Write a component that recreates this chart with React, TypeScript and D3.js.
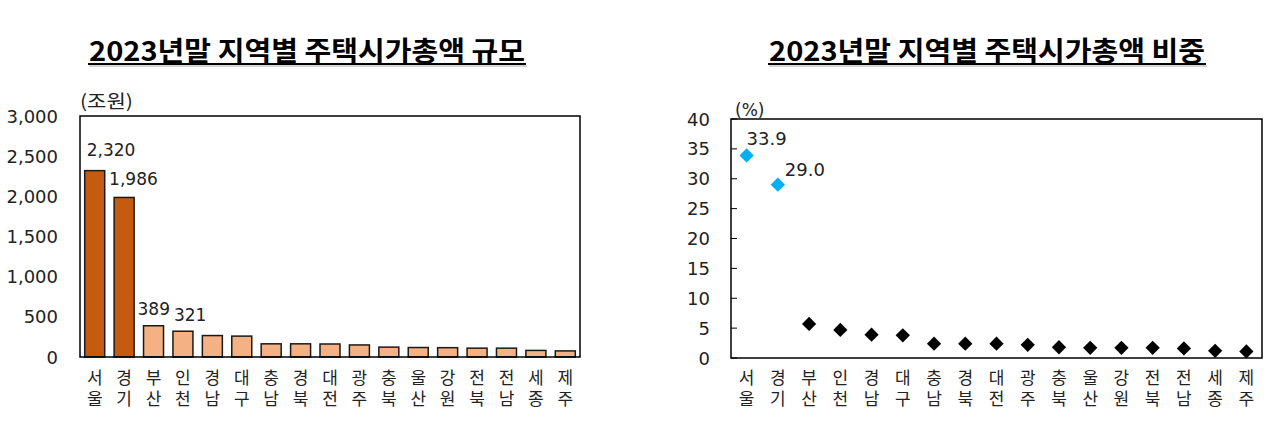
import React from "react"
import * as d3 from "d3"

// 지역 (세로로 두 글자씩 표시)
const regions = ["서울", "경기", "부산", "인천", "경남", "대구", "충남", "경북", "대전", "광주", "충북", "울산", "강원", "전북", "전남", "세종", "제주"]

// 주택시가총액 규모 (조원)
const amounts = [2320, 1986, 389, 321, 267, 260, 164, 164, 162, 150, 123, 118, 116, 110, 110, 82, 76]
const amountLabels = ["2,320", "1,986", "389", "321"]

// 비중 (%)
const shares = [33.9, 29.0, 5.7, 4.7, 3.9, 3.8, 2.4, 2.4, 2.4, 2.2, 1.8, 1.7, 1.7, 1.7, 1.6, 1.2, 1.1]
const shareLabels = ["33.9", "29.0"]

const leftTicks = [0, 500, 1000, 1500, 2000, 2500, 3000]
const rightTicks = [0, 5, 10, 15, 20, 25, 30, 35, 40]

const titles = ["2023년말 지역별 주택시가총액 규모", "2023년말 지역별 주택시가총액 비중"]

const NUM_FONT = "'DejaVu Sans', sans-serif"
const KR_FONT = "'Noto Sans CJK KR', 'Noto Sans', sans-serif"
// Latin font first keeps the line box compact, hangul falls back to Noto CJK
const CAT_FONT = "'Liberation Sans', 'Noto Sans CJK KR', sans-serif"
const TEXT = "#222"

// label nudges (dx, dy) for the value labels, relative to bar / marker
const amountNudge = [[2, -15], [-5, -12], [-6, -11], [1, -10]]
const shareNudge = [[0, -10], [7, -9]]

const App: React.FC = () => {
  // left chart frame
  const L = { x0: 80, x1: 580, y0: 116, y1: 357 }
  const xL = d3.scaleBand<string>().domain(regions).range([L.x0, L.x1]).paddingInner(0.32).paddingOuter(0.16)
  const yL = d3.scaleLinear().domain([0, 3000]).range([L.y1, L.y0])

  // right chart frame
  const R = { x0: 731, x1: 1262, y0: 119, y1: 358 }
  const xR = d3.scaleBand<string>().domain(regions).range([R.x0, R.x1])
  const yR = d3.scaleLinear().domain([0, 40]).range([R.y1, R.y0])

  const diamond = d3.symbol().type(d3.symbolDiamond2).size(130)()

  const categoryLabels = (scale: d3.ScaleBand<string>, key: string) =>
    regions.map(r => {
      const cx = scale(r)! + scale.bandwidth() / 2
      return (
        <g key={key + r}>
          <text x={cx} y={384} textAnchor="middle" fontFamily={CAT_FONT} fontSize={17} fill={TEXT}>{r[0]}</text>
          <text x={cx} y={405} textAnchor="middle" fontFamily={CAT_FONT} fontSize={17} fill={TEXT}>{r[1]}</text>
        </g>
      )
    })

  const title = (t: string, cx: number) => (
    <g>
      <text x={cx - 218} y={61} textLength={436} lengthAdjust="spacingAndGlyphs"
        fontFamily={KR_FONT} fontWeight={700} fontSize={27} fill="#000">{t}</text>
      <line x1={cx - 219} x2={cx + 219} y1={64} y2={64} stroke="#000" strokeWidth={2} />
      <line x1={cx - 218} x2={cx + 220} y1={66} y2={66} stroke="#aaa" strokeWidth={1} />
    </g>
  )

  return (
    <svg width={1280} height={440} style={{ position: "absolute", left: 0, top: 0, background: "#fff" }}>
      {title(titles[0], 307)}
      {title(titles[1], 987)}

      {/* ---- 규모 ---- */}
      <text x={80} y={108} textLength={53} lengthAdjust="spacingAndGlyphs" fontFamily={KR_FONT} fontSize={18} fill={TEXT}>(조원)</text>
      {leftTicks.map(t => (
        <text key={t} x={58} y={yL(t) + 6.5} textAnchor="end" fontFamily={NUM_FONT} fontSize={18} fill={TEXT}>
          {d3.format(",")(t)}
        </text>
      ))}
      {amounts.map((v, i) => (
        <rect key={regions[i]} x={xL(regions[i])} y={yL(v)} width={xL.bandwidth()} height={yL(0) - yL(v)}
          fill={i < 2 ? "#C55A11" : "#F4B183"} stroke="#1a1a1a" strokeWidth={1.5} />
      ))}
      {amountLabels.map((s, i) => (
        <text key={s} x={xL(regions[i])! + amountNudge[i][0]} y={yL(amounts[i]) + amountNudge[i][1]}
          fontFamily={NUM_FONT} fontSize={17} fill={TEXT}>{s}</text>
      ))}
      <rect x={L.x0} y={L.y0} width={L.x1 - L.x0} height={L.y1 - L.y0} fill="none" stroke="#000" strokeWidth={1.5} />
      {categoryLabels(xL, "l")}

      {/* ---- 비중 ---- */}
      <text x={735} y={116} fontFamily={NUM_FONT} fontSize={17} fill={TEXT}>(%)</text>
      {rightTicks.map(t => (
        <g key={t}>
          <text x={710} y={yR(t) + 6.5} textAnchor="end" fontFamily={NUM_FONT} fontSize={18} fill={TEXT}>{t}</text>
          <line x1={R.x0} x2={R.x0 + 6} y1={yR(t)} y2={yR(t)} stroke="#000" strokeWidth={1} />
        </g>
      ))}
      <rect x={R.x0} y={R.y0} width={R.x1 - R.x0} height={R.y1 - R.y0} fill="none" stroke="#000" strokeWidth={1.5} />
      {shares.map((v, i) => (
        <path key={regions[i]} d={diamond!}
          transform={`translate(${xR(regions[i])! + xR.bandwidth() / 2},${yR(v)})`}
          fill={i < 2 ? "#00B0F0" : "#000"} />
      ))}
      {shareLabels.map((s, i) => (
        <text key={s} x={xR(regions[i])! + xR.bandwidth() / 2 + shareNudge[i][0]} y={yR(shares[i]) + shareNudge[i][1]}
          fontFamily={NUM_FONT} fontSize={18} fill={TEXT}>{s}</text>
      ))}
      {categoryLabels(xR, "r")}
    </svg>
  )
}

export default App
